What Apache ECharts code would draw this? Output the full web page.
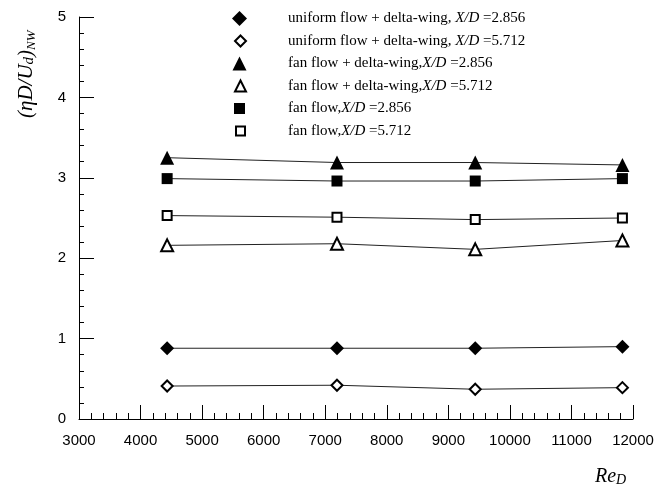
<!DOCTYPE html>
<html>
<head>
<meta charset="utf-8">
<script src="https://cdn.jsdelivr.net/npm/echarts@6/dist/echarts.min.js"></script>
<style>
  html, body { margin: 0; padding: 0; background: #fff; }
  #chart { width: 661px; height: 490px; }
</style>
</head>
<body>
<div id="chart"></div>
<script>
// Reynolds numbers of the measurement points
const reD = [4432, 7191, 9437, 11828];

// Normalised value (ηD/U_d)_NW for each configuration
const uniformDelta2856 = [0.88, 0.88, 0.88, 0.90];
const uniformDelta5712 = [0.41, 0.42, 0.37, 0.39];
const fanDelta2856 = [3.25, 3.19, 3.19, 3.16];
const fanDelta5712 = [2.16, 2.18, 2.11, 2.22];
const fan2856 = [2.99, 2.96, 2.96, 2.99];
const fan5712 = [2.53, 2.51, 2.48, 2.50];

// Axis ticks
const xTicks = { min: 3000, max: 12000, step: 1000 };
const yTicks = { min: 0, max: 5, step: 1 };

const legendNames = [
  'uniform flow + delta-wing, {i|X/D} =2.856',
  'uniform flow + delta-wing, {i|X/D} =5.712',
  'fan flow + delta-wing,{i|X/D} =2.856',
  'fan flow + delta-wing,{i|X/D} =5.712',
  'fan flow,{i|X/D} =2.856',
  'fan flow,{i|X/D} =5.712'
];

const seriesDefs = [
  { values: uniformDelta2856, symbol: 'diamond', size: 14, icon: 15, filled: true },
  { values: uniformDelta5712, symbol: 'diamond', size: 11, icon: 11, filled: false },
  { values: fanDelta2856, symbol: 'triangle', size: 14, icon: 14, filled: true },
  { values: fanDelta5712, symbol: 'triangle', size: 12, icon: 11, filled: false },
  { values: fan2856, symbol: 'rect', size: 11, icon: 11, filled: true },
  { values: fan5712, symbol: 'rect', size: 9, icon: 9, filled: false }
];

function styleFor(def) {
  return def.filled
    ? { color: '#000', borderWidth: 0 }
    : { color: '#fff', borderColor: '#000', borderWidth: 2 };
}

// One legend block per row so each key symbol keeps its own size
const legendIconX = 239.5;
const legendTextX = 288;
const legendRowTop = 18.5;
const legendRowStep = 22.5;

const legends = legendNames.map((name, i) => {
  const def = seriesDefs[i];
  const w = def.icon;
  const left = legendIconX - w / 2;
  const stroke = def.filled ? 0 : 1;
  return {
    orient: 'vertical',
    left: left,
    top: legendRowTop + i * legendRowStep - 8,
    padding: 0,
    itemWidth: w,
    itemHeight: w,
    selectedMode: false,
    data: [{ name, icon: def.symbol, itemStyle: styleFor(def) }],
    textStyle: {
      color: '#000',
      fontFamily: 'Liberation Serif',
      fontSize: 15,
      lineHeight: 16,
      padding: [0, 0, 0, legendTextX - (left + w + 5) - stroke],
      rich: {
        i: { fontFamily: 'Liberation Serif', fontStyle: 'italic', fontSize: 15, lineHeight: 16, color: '#000' }
      }
    }
  };
});

const chart = echarts.init(document.getElementById('chart'));

const option = {
  animation: false,
  backgroundColor: '#fff',
  grid: { left: 79, right: 28, top: 17, bottom: 71, containLabel: false },
  xAxis: {
    type: 'value',
    min: xTicks.min, max: xTicks.max, interval: xTicks.step,
    axisLine: { lineStyle: { color: '#000', width: 1 } },
    axisTick: { inside: true, length: 14, lineStyle: { color: '#000' } },
    minorTick: { show: true, splitNumber: 5, length: 6, lineStyle: { color: '#000' } },
    splitLine: { show: false },
    axisLabel: {
      color: '#000', fontFamily: 'Liberation Sans', fontSize: 15, margin: 14,
      formatter: v => String(v)
    }
  },
  yAxis: {
    type: 'value',
    min: yTicks.min, max: yTicks.max, interval: yTicks.step,
    axisLine: { show: true, lineStyle: { color: '#000', width: 1 } },
    axisTick: { show: true, inside: true, length: 15, lineStyle: { color: '#000' } },
    minorTick: { show: true, splitNumber: 5, length: 5, lineStyle: { color: '#000' } },
    splitLine: { show: false },
    axisLabel: { color: '#000', fontFamily: 'Liberation Sans', fontSize: 15, margin: 13 }
  },
  legend: legends,
  graphic: [
    {
      type: 'text',
      x: 15, y: 118,
      rotation: Math.PI / 2,
      style: {
        text: '(ηD/U{s|d}){t|NW}',
        fontFamily: 'Liberation Serif',
        fontStyle: 'italic',
        fontSize: 21,
        fill: '#000',
        rich: {
          s: { fontFamily: 'Liberation Serif', fontStyle: 'italic', fontSize: 15, padding: [6, 0, 0, 0] },
          t: { fontFamily: 'Liberation Serif', fontStyle: 'italic', fontSize: 13, padding: [10, 0, 0, 0] }
        }
      }
    },
    {
      type: 'text',
      x: 595, y: 466,
      style: {
        text: 'Re{s|D}',
        fontFamily: 'Liberation Serif',
        fontStyle: 'italic',
        fontSize: 20,
        fill: '#000',
        rich: {
          s: { fontFamily: 'Liberation Serif', fontStyle: 'italic', fontSize: 14, padding: [7, 0, 0, 0] }
        }
      }
    }
  ],
  series: seriesDefs.map((def, i) => ({
    name: legendNames[i],
    type: 'line',
    data: reD.map((x, k) => [x, def.values[k]]),
    symbol: def.symbol,
    symbolSize: def.size,
    lineStyle: { color: '#222', width: 1 },
    itemStyle: styleFor(def),
    z: 2
  }))
};

chart.setOption(option);
</script>
</body>
</html>
